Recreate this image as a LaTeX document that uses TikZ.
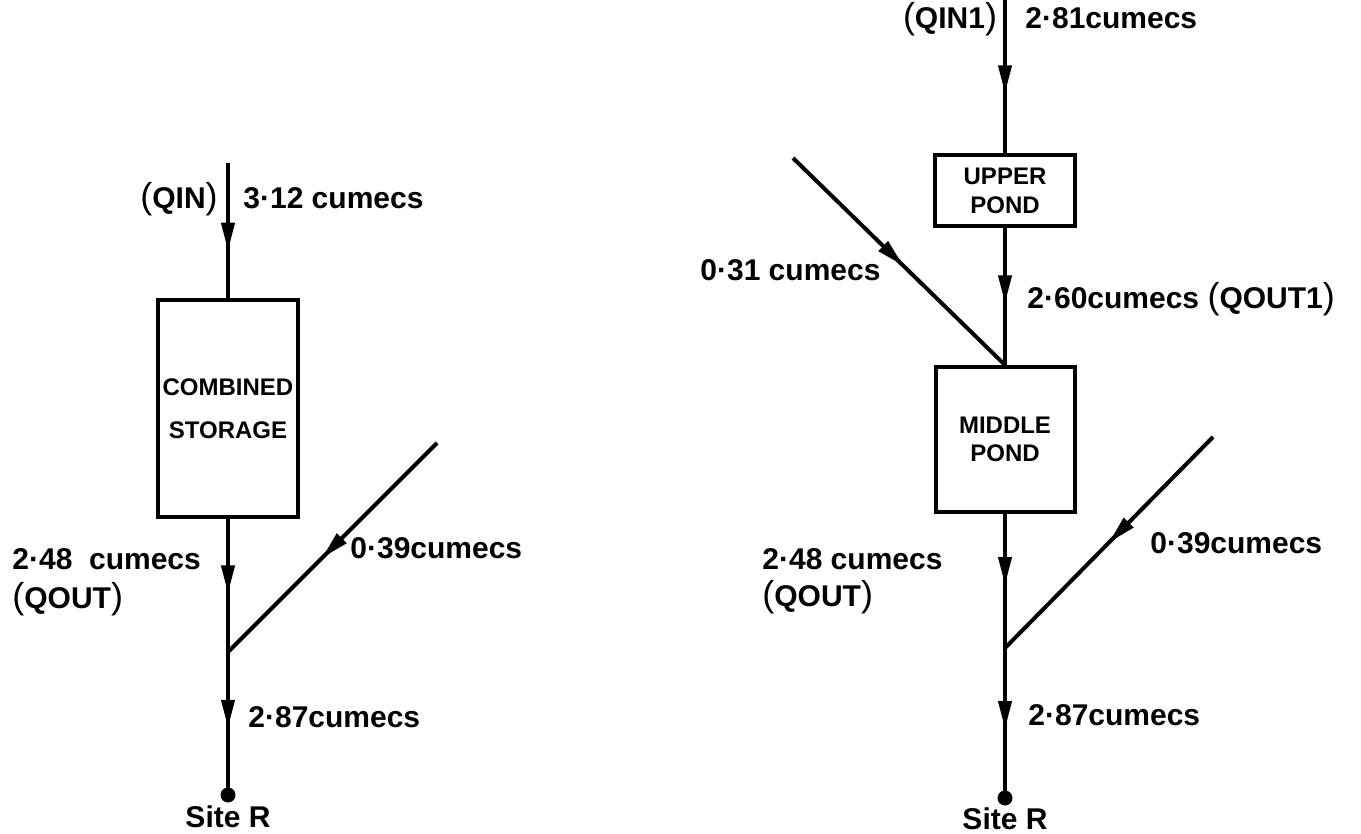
\documentclass[tikz,border=0pt]{standalone}
\usepackage{fontspec}
\setmainfont{Liberation Sans}
\usetikzlibrary{arrows.meta,decorations.markings}
\newcommand{\prn}[1]{{\fontsize{18}{18}\selectfont\mdseries(}#1{\fontsize{18}{18}\selectfont\mdseries)}}
\tikzset{
  flow/.style={line width=2pt, postaction={decorate},
    decoration={markings, mark=at position #1 with {\arrow{Triangle[length=14pt,width=6.5pt]}}}},
  pond/.style={draw, line width=2pt, inner sep=0pt, align=center,
    font=\bfseries\fontsize{12}{21.5}\selectfont},
  lbl/.style={anchor=base west, inner sep=0pt, font=\bfseries\fontsize{15}{17}\selectfont},
  clbl/.style={anchor=base, inner sep=0pt, font=\bfseries\fontsize{15}{17}\selectfont},
  site/.style={circle, fill, inner sep=0pt, minimum size=7.5pt}
}
\begin{document}
\begin{tikzpicture}[x=0.5pt, y=-0.5pt]
\useasboundingbox (0,0) rectangle (1361,834);
% ---------- left diagram ----------
\coordinate (topL) at (228,163);
\node[pond, minimum width=70pt, minimum height=108.5pt] (cs) at (228,408.5) {COMBINED\\STORAGE};
\coordinate (jL) at (228,652);
\coordinate (dL) at (437,443);
\node[site] (siteL) at (228,795) {};
\draw[flow=0.65] (topL) -- (cs.north);
\draw[flow=0.56] (cs.south) -- (jL);
\draw[flow=0.55] (dL) -- (jL);
\draw[flow=0.53] (jL) -- (siteL.center);
\node[clbl] (qinL) at (179,209) {\prn{QIN}};
\node[lbl] (inL) at (243,209) {3·12 cumecs};
\node[lbl] (outL) at (12,569) {2·48\ \ cumecs};
\node[lbl] (qoutL) at (12,608) {\prn{QOUT}};
\node[lbl] (latL) at (350,558) {0·39cumecs};
\node[lbl] (resL) at (248,727) {2·87cumecs};
\node[clbl] (srL) at (228,827) {Site R};
% ---------- right diagram ----------
\coordinate (topR) at (1005,0);
\node[pond, minimum width=70pt, minimum height=35.5pt, font=\bfseries\fontsize{12}{14.5}\selectfont] (up) at (1005,190.5) {UPPER\\POND};
\node[pond, minimum width=69.5pt, minimum height=72.5pt, font=\bfseries\fontsize{12}{14}\selectfont] (mp) at (1005,439.5) {MIDDLE\\POND};
\coordinate (dR1) at (793,158);
\coordinate (jR) at (1005,648);
\coordinate (dR2) at (1213,437);
\node[site] (siteR) at (1005,798) {};
\draw[flow=0.61] (topR) -- (up.north);
\draw[flow=0.55] (up.south) -- (mp.north);
\draw[flow=0.52] (dR1) -- (mp.north);
\draw[flow=0.53] (mp.south) -- (jR);
\draw[flow=0.50] (dR2) -- (jR);
\draw[flow=0.54] (jR) -- (siteR.center);
\node[clbl] (qinR) at (950,29) {\prn{QIN1}};
\node[lbl] (inR) at (1025,29) {2·81cumecs};
\node[lbl] (outR1) at (1027,309) {2·60cumecs \prn{QOUT1}};
\node[lbl] (latR1) at (700,281) {0·31 cumecs};
\node[lbl] (outR) at (762,569) {2·48 cumecs};
\node[lbl] (qoutR) at (762,606) {\prn{QOUT}};
\node[lbl] (latR2) at (1150,553) {0·39cumecs};
\node[lbl] (resR) at (1028,725) {2·87cumecs};
\node[clbl] (srR) at (1005,829) {Site R};
\end{tikzpicture}
\end{document}
